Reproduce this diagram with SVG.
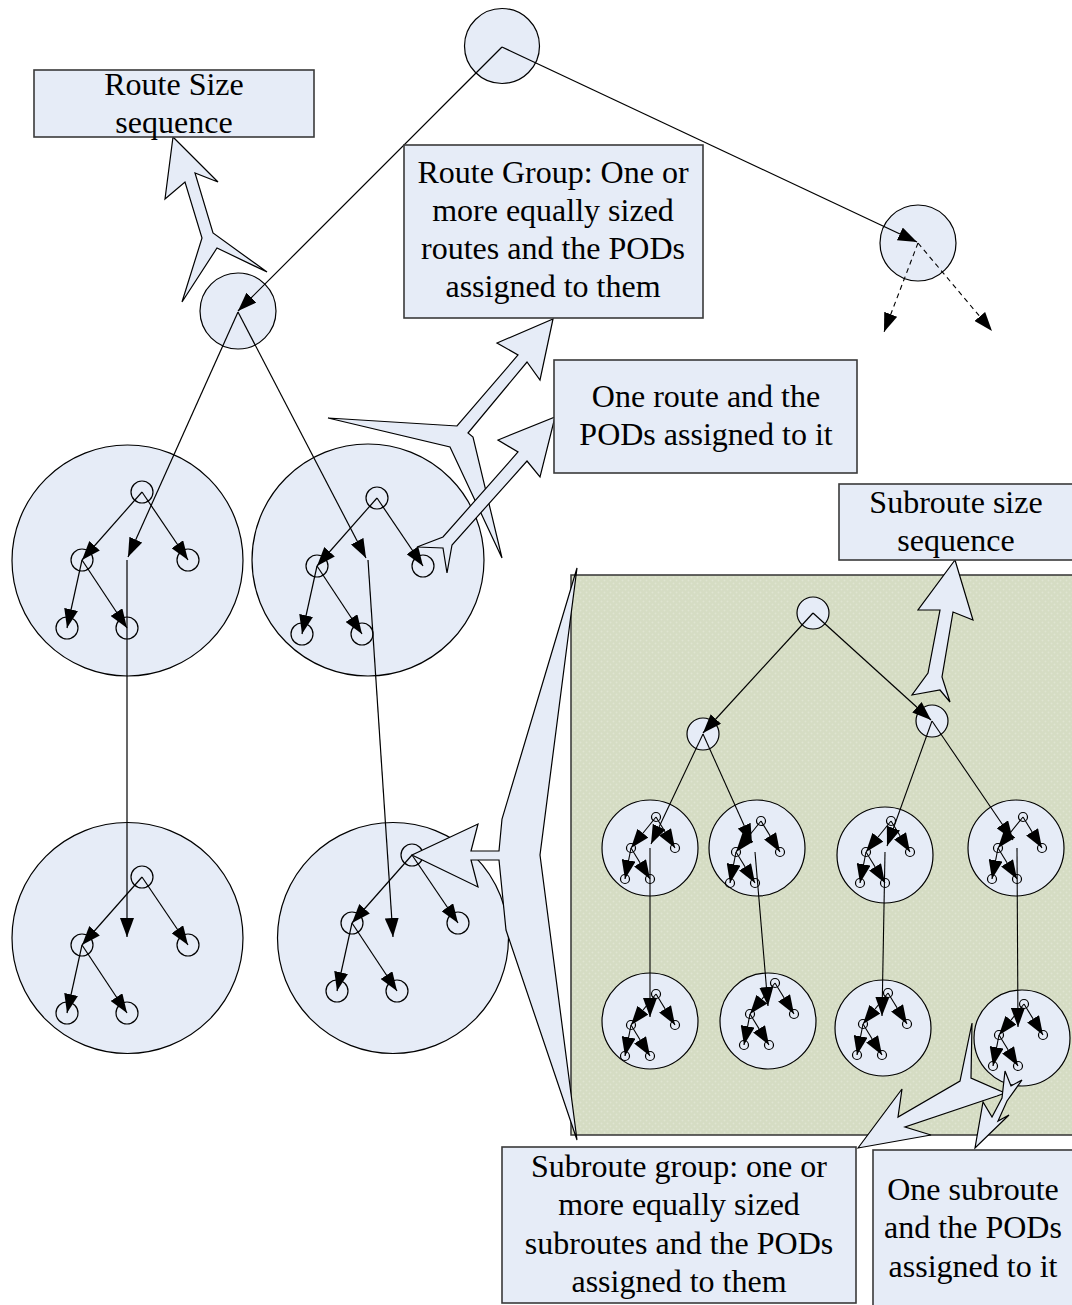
<svg xmlns="http://www.w3.org/2000/svg" xmlns:xlink="http://www.w3.org/1999/xlink" width="1072" height="1305" viewBox="0 0 1072 1305">
  <style>
    .node { fill: #e6ecf7; stroke: #000; stroke-width: 1.2; }
    .pod { fill: none; stroke: #000; stroke-width: 1.2; }
    .box { fill: #e6ecf7; stroke: #3a3a3a; stroke-width: 1.6; }
    .callout { fill: #e6ecf7; stroke: #000; stroke-width: 1.2; stroke-linejoin: miter; }
    .edge { fill: none; stroke: #000; stroke-width: 1.2; marker-end: url(#ah); }
    .edge-s { fill: none; stroke: #000; stroke-width: 1.1; marker-end: url(#ahs); }
    .edge-d { fill: none; stroke: #000; stroke-width: 1.1; stroke-dasharray: 5 4; marker-end: url(#ah); }
    text { font-family: "Liberation Serif", "Times New Roman", serif; font-size: 32px; fill: #000; text-anchor: middle; }
  </style>
  <defs>
    <marker id="ah" markerUnits="userSpaceOnUse" markerWidth="20" markerHeight="14" refX="19" refY="7" orient="auto">
      <path d="M0,0 L19,7 L0,14 z" fill="#000"/>
    </marker>
    <marker id="ahs" markerUnits="userSpaceOnUse" markerWidth="20" markerHeight="14" refX="19" refY="7" orient="auto">
      <path d="M0,0 L19,7 L0,14 z" fill="#000"/>
    </marker>
    <pattern id="dots" width="6" height="6" patternUnits="userSpaceOnUse">
      <rect width="6" height="6" fill="#d5dcc3"/>
      <circle cx="1.5" cy="1.5" r="1" fill="#dfe5d1"/>
      <circle cx="4.5" cy="4.5" r="1" fill="#dfe5d1"/>
    </pattern>
    <!-- POD tree drawn inside a route circle; origin = (grandchild x, child row y) -->
    <g id="podTree">
      <circle class="pod" cx="15" cy="-68" r="11"/>
      <circle class="pod" cx="-45" cy="0" r="11"/>
      <circle class="pod" cx="61" cy="0" r="11"/>
      <circle class="pod" cx="-60" cy="68" r="11"/>
      <circle class="pod" cx="0" cy="68" r="11"/>
      <line class="edge" x1="15" y1="-68" x2="-45" y2="0"/>
      <line class="edge" x1="15" y1="-68" x2="61" y2="0"/>
      <line class="edge" x1="-45" y1="0" x2="-60" y2="68"/>
      <line class="edge" x1="-45" y1="0" x2="0" y2="68"/>
    </g>
    <!-- the same tree at subroute scale -->
    <g id="miniTree">
      <circle class="pod" cx="6" cy="-31" r="4.5"/>
      <circle class="pod" cx="-19" cy="0" r="4.5"/>
      <circle class="pod" cx="25" cy="0" r="4.5"/>
      <circle class="pod" cx="-25" cy="31" r="4.5"/>
      <circle class="pod" cx="0" cy="31" r="4.5"/>
      <line class="edge-s" x1="6" y1="-31" x2="-19" y2="0"/>
      <line class="edge-s" x1="6" y1="-31" x2="25" y2="0"/>
      <line class="edge-s" x1="-19" y1="0" x2="-25" y2="31"/>
      <line class="edge-s" x1="-19" y1="0" x2="0" y2="31"/>
    </g>
  </defs>

  <rect width="1072" height="1305" fill="#fff"/>

  <!-- detail panel: subroutes of one route -->
  <g id="subroute-panel">
    <rect x="571" y="575" width="505" height="560" fill="url(#dots)" stroke="#333" stroke-width="1.5"/>
  </g>

  <!-- top level -->
  <g id="root"><circle class="node" cx="502" cy="46" r="37.5"/></g>
  <g id="route-size-a"><circle class="node" cx="238" cy="311" r="38"/></g>
  <g id="route-size-b"><circle class="node" cx="918" cy="243" r="38"/></g>

  <!-- routes with their POD trees -->
  <g id="route-a">
    <circle class="node" cx="127.5" cy="560.5" r="115.5"/>
    <use xlink:href="#podTree" x="127" y="560"/>
  </g>
  <g id="route-b">
    <circle class="node" cx="368" cy="560" r="116"/>
    <use xlink:href="#podTree" x="362" y="566"/>
  </g>
  <g id="route-c">
    <circle class="node" cx="127.5" cy="938" r="115.5"/>
    <use xlink:href="#podTree" x="127" y="945"/>
  </g>
  <g id="route-d">
    <circle class="node" cx="393" cy="938" r="115.5"/>
    <use xlink:href="#podTree" x="397" y="923"/>
  </g>

  <!-- subroute tree -->
  <g id="sub-root"><circle class="node" cx="813" cy="613" r="16"/></g>
  <g id="sub-size-a"><circle class="node" cx="703" cy="734" r="16"/></g>
  <g id="sub-size-b"><circle class="node" cx="932" cy="721" r="16"/></g>

  <g id="subroute-1a"><circle class="node" cx="650" cy="848" r="48"/><use xlink:href="#miniTree" x="650" y="848"/></g>
  <g id="subroute-2a"><circle class="node" cx="757" cy="848" r="48"/><use xlink:href="#miniTree" x="755" y="852"/></g>
  <g id="subroute-3a"><circle class="node" cx="885" cy="855" r="48"/><use xlink:href="#miniTree" x="885" y="852"/></g>
  <g id="subroute-4a"><circle class="node" cx="1016" cy="848" r="48"/><use xlink:href="#miniTree" x="1017" y="848"/></g>
  <g id="subroute-1b"><circle class="node" cx="650" cy="1021" r="48"/><use xlink:href="#miniTree" x="650" y="1025"/></g>
  <g id="subroute-2b"><circle class="node" cx="768" cy="1021" r="48"/><use xlink:href="#miniTree" x="769" y="1014"/></g>
  <g id="subroute-3b"><circle class="node" cx="883" cy="1028" r="48"/><use xlink:href="#miniTree" x="882" y="1024"/></g>
  <g id="subroute-4b"><circle class="node" cx="1022" cy="1038" r="48"/><use xlink:href="#miniTree" x="1018" y="1035"/></g>

  <!-- connectors -->
  <g id="connectors">
    <line class="edge" x1="502" y1="47" x2="238" y2="311"/>
    <line class="edge" x1="502" y1="47" x2="917" y2="242"/>
    <line class="edge-d" x1="918" y1="243" x2="884" y2="332"/>
    <line class="edge-d" x1="918" y1="243" x2="992" y2="331"/>

    <line class="edge" x1="238" y1="312" x2="128" y2="557"/>
    <line class="edge" x1="127" y1="560" x2="127" y2="937"/>
    <line class="edge" x1="238" y1="312" x2="366" y2="558"/>
    <line class="edge" x1="368" y1="560" x2="393" y2="937"/>

    <line class="edge" x1="813" y1="613" x2="703" y2="733"/>
    <line class="edge" x1="813" y1="613" x2="931" y2="720"/>

    <line class="edge-s" x1="703" y1="734" x2="651" y2="844"/>
    <line class="edge-s" x1="703" y1="734" x2="752" y2="843"/>
    <line class="edge-s" x1="932" y1="721" x2="887" y2="846"/>
    <line class="edge-s" x1="932" y1="721" x2="1013" y2="840"/>

    <line class="edge-s" x1="650" y1="848" x2="650" y2="1017"/>
    <line class="edge-s" x1="755" y1="852" x2="768" y2="1006"/>
    <line class="edge-s" x1="885" y1="852" x2="882" y2="1016"/>
    <line class="edge-s" x1="1017" y1="848" x2="1018" y2="1027"/>
  </g>

  <!-- callout arrows -->
  <g id="callouts">
    <polygon class="callout" points="173,137 218,182 195,173 213,233 267,272 217,248 182,302 202,238 185,182 165,199"/>
    <polygon class="callout" points="553,319 540,380 527,362 468,433 473,437 502,558 450,447 328,418 457,426 518,355 497,343"/>
    <polygon class="callout" points="555,417 540,477 527,461 452,545 447,573 443,548 417,547 443,537 518,452 498,440"/>
    <polygon class="callout" points="955,560 973,620 953,612 942,677 950,702 940,690 912,695 928,673 940,610 918,610"/>
    <polygon class="callout" points="577,568 502,819 499,851 471,851 478,824 412,855 478,887 471,860 499,860 506,930 577,1140 540,855"/>
    <polygon class="callout" points="858,1148 902,1089 898,1117 960,1081 972,1023 971,1078 1005,1093 997,1096 905,1127 931,1135"/>
    <polygon class="callout" points="975,1148 983,1102 992,1117 1002,1098 1005,1071 1011,1086 1022,1080 1007,1101 998,1121 1009,1115"/>
  </g>

  <!-- text boxes -->
  <g id="route-size-sequence">
    <rect class="box" x="34" y="70" width="280" height="67"/>
    <text x="174" y="95">Route Size</text>
    <text x="174" y="133">sequence</text>
  </g>
  <g id="route-group">
    <rect class="box" x="404" y="145" width="299" height="173"/>
    <text x="553" y="183">Route Group: One or</text>
    <text x="553" y="221">more equally sized</text>
    <text x="553" y="259">routes and the PODs</text>
    <text x="553" y="297">assigned to them</text>
  </g>
  <g id="one-route">
    <rect class="box" x="554" y="360" width="303" height="113"/>
    <text x="706" y="407">One route and the</text>
    <text x="706" y="445">PODs assigned to it</text>
  </g>
  <g id="subroute-size-sequence">
    <rect class="box" x="839" y="484" width="240" height="76"/>
    <text x="956" y="513">Subroute size</text>
    <text x="956" y="551">sequence</text>
  </g>
  <g id="subroute-group">
    <rect class="box" x="502" y="1147" width="354" height="156"/>
    <text x="679" y="1177">Subroute group: one or</text>
    <text x="679" y="1215">more equally sized</text>
    <text x="679" y="1254">subroutes and the PODs</text>
    <text x="679" y="1292">assigned to them</text>
  </g>
  <g id="one-subroute">
    <rect class="box" x="873" y="1150" width="206" height="165"/>
    <text x="973" y="1200">One subroute</text>
    <text x="973" y="1238">and the PODs</text>
    <text x="973" y="1277">assigned to it</text>
  </g>
</svg>
